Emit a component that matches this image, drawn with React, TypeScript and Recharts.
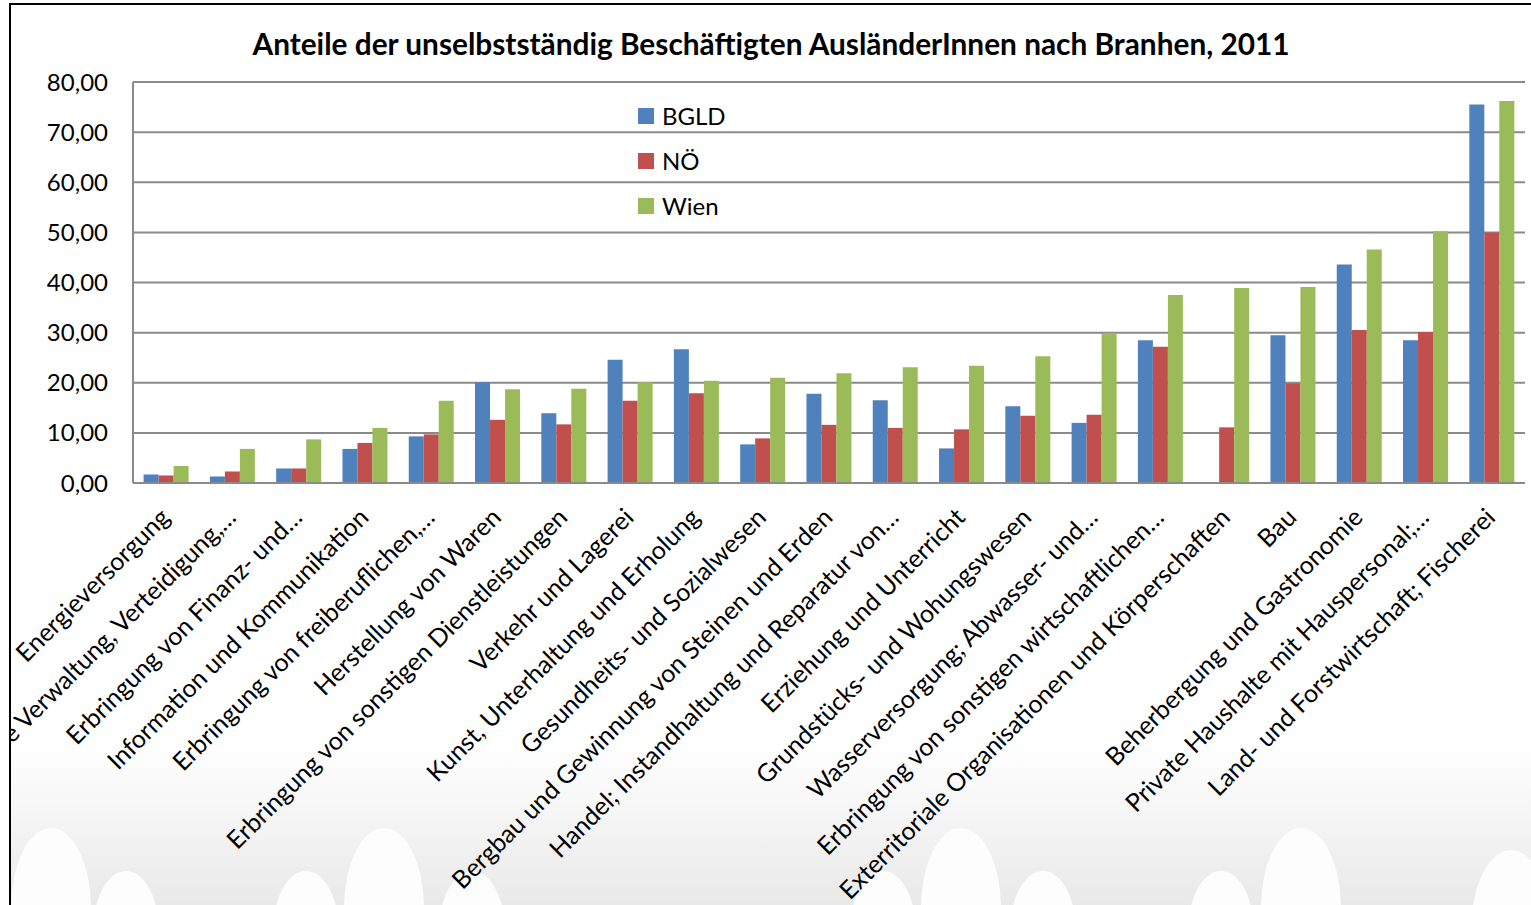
import { BarChart, Bar, XAxis, YAxis, CartesianGrid } from 'recharts'

const categories = [
  'Energieversorgung',
  'Öffentliche Verwaltung, Verteidigung,…',
  'Erbringung von Finanz- und…',
  'Information und Kommunikation',
  'Erbringung von freiberuflichen,…',
  'Herstellung von Waren',
  'Erbringung von sonstigen Dienstleistungen',
  'Verkehr und Lagerei',
  'Kunst, Unterhaltung und Erholung',
  'Gesundheits- und Sozialwesen',
  'Bergbau und Gewinnung von Steinen und Erden',
  'Handel; Instandhaltung und Reparatur von…',
  'Erziehung und Unterricht',
  'Grundstücks- und Wohungswesen',
  'Wasserversorgung; Abwasser- und…',
  'Erbringung von sonstigen wirtschaftlichen…',
  'Exterritoriale Organisationen und Körperschaften',
  'Bau',
  'Beherbergung und Gastronomie',
  'Private Haushalte mit Hauspersonal;…',
  'Land- und Forstwirtschaft; Fischerei',
]

const bgld = [1.7, 1.3, 2.9, 6.8, 9.3, 20.1, 13.9, 24.6, 26.7, 7.7, 17.8, 16.5, 6.9, 15.3, 12.0, 28.5, 0, 29.5, 43.6, 28.5, 75.5]
const noe = [1.5, 2.3, 2.9, 8.0, 9.7, 12.6, 11.7, 16.4, 17.9, 8.9, 11.6, 11.0, 10.7, 13.4, 13.6, 27.2, 11.1, 19.9, 30.5, 30.1, 50.0]
const wien = [3.4, 6.8, 8.7, 11.0, 16.4, 18.7, 18.8, 20.1, 20.4, 21.0, 21.9, 23.1, 23.4, 25.3, 29.9, 37.5, 38.9, 39.1, 46.6, 50.2, 76.2]

const yTicks = [0, 10, 20, 30, 40, 50, 60, 70, 80]

const seriesNames = ['BGLD', 'NÖ', 'Wien']
const seriesColors = ['#4F81BD', '#C0504D', '#9BBB59']

const data = categories.map((name, i) => ({ name, bgld: bgld[i], noe: noe[i], wien: wien[i] }))

const FONT = 'Lato, "Open Sans", sans-serif'
const GRID = '#8a8a8a'

// decorative background blobs at the bottom (x center, top, rx, ry)
const blobs = [
  [40, 823, 40, 80], [115, 866, 33, 60], [295, 866, 33, 60], [373, 823, 40, 80],
  [461, 866, 33, 60], [872, 866, 33, 60], [950, 823, 40, 80], [1032, 866, 33, 60],
  [1210, 866, 33, 60], [1290, 823, 40, 80], [1500, 845, 40, 80],
]

const CategoryTick = ({ x, y, payload }: any) => (
  <g transform={`translate(${x + 5},${y + 34})`}>
    <text transform="rotate(-45)" textAnchor="end" fontSize={25} fill="#000" fontFamily={FONT}>
      {payload.value}
    </text>
  </g>
)

export default function App() {
  return (
    <div
      style={{
        position: 'absolute',
        left: 9,
        top: 3,
        width: 1520,
        height: 900,
        borderTop: '2px solid #000',
        borderLeft: '2px solid #000',
        overflow: 'hidden',
        background: '#fff',
      }}
    >
      <svg width={1520} height={900} style={{ position: 'absolute', left: 0, top: 0 }}>
        <defs>
          <linearGradient id="bg" x1="0" y1="0" x2="0" y2="1">
            <stop offset="0" stopColor="#ffffff" />
            <stop offset="1" stopColor="#e9e9e9" />
          </linearGradient>
        </defs>
        <rect x={0} y={740} width={1520} height={160} fill="url(#bg)" />
        {blobs.map(([cx, top, rx, ry], i) => (
          <ellipse key={i} cx={cx} cy={top + ry} rx={rx} ry={ry} fill="#fdfdfd" />
        ))}
      </svg>
      <div
        style={{
          position: 'absolute',
          left: 0,
          top: 21,
          width: 1520,
          textAlign: 'center',
          fontFamily: FONT,
          fontWeight: 700,
          fontSize: 29.8,
          color: '#000',
        }}
      >
        Anteile der unselbstständig Beschäftigten AusländerInnen nach Branhen, 2011
      </div>
      <div style={{ position: 'absolute', left: 0, top: 0 }}>
        <BarChart
          width={1520}
          height={900}
          data={data}
          margin={{ top: 77, right: 6, left: 0, bottom: 0 }}
          barCategoryGap="16%"
          barGap={0}
        >
          <CartesianGrid vertical={false} stroke={GRID} strokeWidth={2} />
          <XAxis
            dataKey="name"
            interval={0}
            height={422}
            tickLine={false}
            tickSize={0}
            tick={<CategoryTick />}
            axisLine={{ stroke: GRID, strokeWidth: 2 }}
          />
          <YAxis
            width={122}
            domain={[0, 80]}
            ticks={yTicks}
            tickLine={false}
            tickSize={6}
            tickMargin={19}
            axisLine={{ stroke: GRID, strokeWidth: 2 }}
            tick={{ fill: '#000', fontSize: 24, fontFamily: FONT }}
            tickFormatter={(v: number) => v.toFixed(2).replace('.', ',')}
          />
          <Bar dataKey="bgld" name="BGLD" fill={seriesColors[0]} isAnimationActive={false} />
          <Bar dataKey="noe" name="NÖ" fill={seriesColors[1]} isAnimationActive={false} />
          <Bar dataKey="wien" name="Wien" fill={seriesColors[2]} isAnimationActive={false} />
        </BarChart>
      </div>
      <div
        style={{
          position: 'absolute',
          left: 627,
          top: 88,
          fontFamily: FONT,
          fontSize: 24,
          color: '#000',
        }}
      >
        {seriesNames.map((n, i) => (
          <div key={n} style={{ display: 'flex', alignItems: 'center', height: 45 }}>
            <span
              style={{ width: 16, height: 16, background: seriesColors[i], marginRight: 8, display: 'inline-block' }}
            />
            {n}
          </div>
        ))}
      </div>
    </div>
  )
}
